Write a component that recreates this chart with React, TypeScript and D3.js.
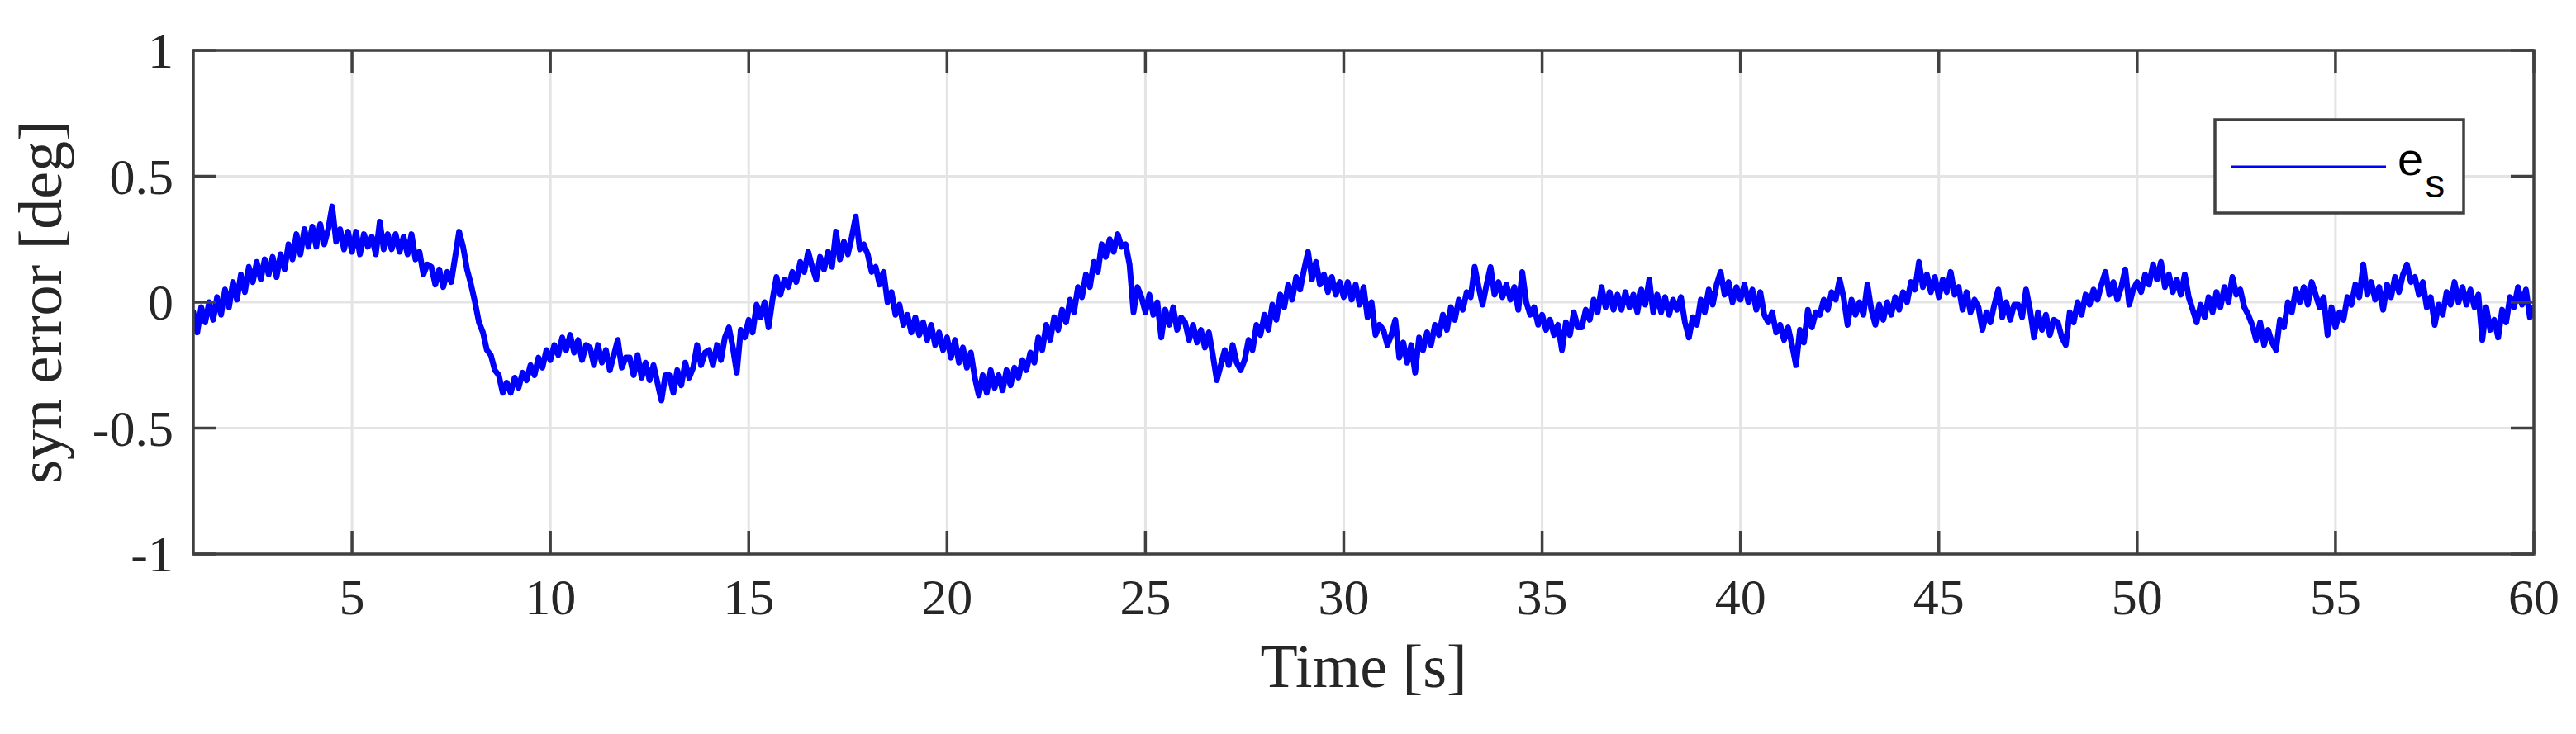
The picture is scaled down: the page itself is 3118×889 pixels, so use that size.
import React from 'react';
import * as d3 from 'd3';

// ---- data ----
const TIME_START = 1;
const TIME_STEP = 0.1;
// synchronisation error e_s [deg], sampled every 0.1 s from t = 1 s to 60 s
const synError: number[] = [
  -0.04, -0.12, -0.02, -0.08, 0.0, -0.07, 0.02, -0.05, 0.05, -0.02,
  0.08, 0.01, 0.11, 0.04, 0.14, 0.08, 0.16, 0.09, 0.17, 0.11,
  0.18, 0.10, 0.19, 0.13, 0.23, 0.17, 0.27, 0.19, 0.29, 0.22,
  0.30, 0.22, 0.31, 0.23, 0.29, 0.38, 0.24, 0.29, 0.21, 0.28,
  0.20, 0.28, 0.19, 0.27, 0.22, 0.26, 0.19, 0.32, 0.21, 0.27,
  0.21, 0.27, 0.20, 0.26, 0.19, 0.27, 0.17, 0.20, 0.11, 0.15,
  0.14, 0.07, 0.13, 0.06, 0.12, 0.08, 0.18, 0.28, 0.22, 0.13,
  0.07, 0.0, -0.08, -0.12, -0.19, -0.21, -0.27, -0.29, -0.36, -0.32,
  -0.36, -0.30, -0.34, -0.28, -0.31, -0.25, -0.29, -0.22, -0.26, -0.19,
  -0.23, -0.17, -0.21, -0.14, -0.19, -0.13, -0.20, -0.15, -0.23, -0.17,
  -0.18, -0.25, -0.17, -0.24, -0.19, -0.27, -0.21, -0.15, -0.26, -0.22,
  -0.22, -0.29, -0.21, -0.30, -0.24, -0.31, -0.25, -0.32, -0.39, -0.29,
  -0.29, -0.36, -0.27, -0.33, -0.24, -0.30, -0.26, -0.17, -0.25, -0.20,
  -0.19, -0.25, -0.17, -0.23, -0.14, -0.10, -0.18, -0.28, -0.11, -0.14,
  -0.07, -0.12, -0.01, -0.06, 0.0, -0.10, 0.01, 0.10, 0.03, 0.09,
  0.06, 0.12, 0.08, 0.16, 0.12, 0.20, 0.14, 0.09, 0.18, 0.13,
  0.20, 0.14, 0.28, 0.17, 0.24, 0.19, 0.26, 0.34, 0.21, 0.23,
  0.19, 0.12, 0.14, 0.07, 0.12, 0.0, 0.04, -0.05, -0.01, -0.09,
  -0.05, -0.12, -0.06, -0.13, -0.08, -0.15, -0.09, -0.17, -0.12, -0.19,
  -0.14, -0.22, -0.15, -0.24, -0.18, -0.26, -0.20, -0.30, -0.37, -0.29,
  -0.36, -0.27, -0.34, -0.29, -0.35, -0.27, -0.33, -0.26, -0.30, -0.23,
  -0.27, -0.20, -0.24, -0.14, -0.19, -0.09, -0.15, -0.06, -0.11, -0.03,
  -0.08, 0.01, -0.04, 0.06, 0.02, 0.11, 0.06, 0.16, 0.12, 0.23,
  0.18, 0.25, 0.20, 0.27, 0.22, 0.23, 0.15, -0.04, 0.06, 0.02,
  -0.04, 0.03, -0.05, 0.0, -0.14, -0.03, -0.09, -0.02, -0.11, -0.06,
  -0.08, -0.15, -0.09, -0.16, -0.11, -0.18, -0.12, -0.21, -0.31, -0.25,
  -0.19, -0.25, -0.17, -0.24, -0.27, -0.23, -0.15, -0.19, -0.09, -0.13,
  -0.05, -0.11, -0.01, -0.07, 0.03, -0.02, 0.07, 0.01, 0.10, 0.05,
  0.13, 0.20, 0.09, 0.16, 0.07, 0.11, 0.04, 0.10, 0.03, 0.08,
  0.02, 0.08, 0.01, 0.07, -0.01, 0.06, -0.06, 0.0, -0.13, -0.09,
  -0.11, -0.17, -0.13, -0.07, -0.22, -0.16, -0.24, -0.17, -0.28, -0.14,
  -0.19, -0.12, -0.17, -0.09, -0.13, -0.05, -0.11, -0.02, -0.07, 0.01,
  -0.03, 0.04, 0.02, 0.14, 0.06, -0.01, 0.07, 0.14, 0.03, 0.08,
  0.02, 0.07, 0.01, 0.06, -0.03, 0.12, 0.0, -0.05, -0.02, -0.09,
  -0.05, -0.11, -0.07, -0.13, -0.09, -0.19, -0.08, -0.13, -0.04, -0.10,
  -0.10, -0.03, -0.07, 0.01, -0.04, 0.06, -0.02, 0.04, -0.03, 0.03,
  -0.03, 0.04, -0.02, 0.03, -0.04, 0.05, -0.01, 0.09, -0.04, 0.03,
  -0.04, 0.02, -0.05, 0.01, -0.03, 0.02, -0.08, -0.14, -0.06, -0.09,
  0.01, -0.04, 0.05, -0.01, 0.07, 0.12, 0.03, 0.08, 0.0, 0.06,
  0.01, 0.07, 0.0, 0.05, -0.03, 0.04, -0.05, -0.08, -0.04, -0.12,
  -0.09, -0.15, -0.10, -0.17, -0.25, -0.11, -0.16, -0.03, -0.10, -0.04,
  -0.05, 0.01, -0.03, 0.04, 0.01, 0.09, 0.02, -0.09, 0.01, -0.05,
  0.0, -0.05, 0.07, -0.03, -0.09, -0.01, -0.07, 0.0, -0.05, 0.02,
  -0.03, 0.04, 0.0, 0.08, 0.05, 0.16, 0.06, 0.11, 0.04, 0.10,
  0.02, 0.09, 0.04, 0.12, 0.03, 0.06, -0.03, 0.04, -0.04, 0.01,
  -0.02, -0.11, -0.04, -0.08, -0.01, 0.05, -0.06, 0.0, -0.07, -0.01,
  -0.01, -0.06, 0.05, -0.03, -0.14, -0.04, -0.11, -0.05, -0.13, -0.07,
  -0.08, -0.14, -0.17, -0.04, -0.08, 0.0, -0.05, 0.03, -0.01, 0.05,
  0.01, 0.07, 0.12, 0.03, 0.08, 0.01, 0.06, 0.13, -0.01, 0.05,
  0.08, 0.04, 0.11, 0.07, 0.15, 0.09, 0.16, 0.06, 0.11, 0.04,
  0.09, 0.03, 0.11, 0.02, -0.03, -0.08, -0.01, -0.06, 0.02, -0.04,
  0.04, -0.02, 0.06, 0.0, 0.10, 0.03, 0.05, -0.02, -0.05, -0.09,
  -0.15, -0.08, -0.17, -0.11, -0.16, -0.19, -0.07, -0.10, 0.0, -0.04,
  0.05, 0.0, 0.06, -0.01, 0.08, 0.03, -0.02, 0.02, -0.13, -0.02,
  -0.10, -0.04, -0.07, 0.02, -0.01, 0.07, 0.02, 0.15, 0.03, 0.08,
  0.01, 0.06, -0.03, 0.07, 0.02, 0.10, 0.04, 0.11, 0.15, 0.08,
  0.10, 0.03, 0.08, -0.02, 0.02, -0.09, -0.01, -0.05, 0.04, -0.01,
  0.08, 0.0, 0.06, -0.01, 0.05, -0.02, 0.03, -0.15, -0.02, -0.11,
  -0.07, -0.14, -0.03, -0.08, 0.02, -0.02, 0.06, -0.01, 0.05, -0.06,
  -0.02,
];

const xDomain = [1, 60];
const yDomain = [-1, 1];
const xTicks = [5, 10, 15, 20, 25, 30, 35, 40, 45, 50, 55, 60];
const yTicks = [-1, -0.5, 0, 0.5, 1];
const yTickLabels = ['-1', '-0.5', '0', '0.5', '1'];
const xLabel = 'Time [s]';
const yLabel = 'syn error [deg]';
const legendMain = 'e';
const legendSub = 's';

export default function App() {
  const W = 3118;
  const H = 889;
  const plot = { left: 234, right: 3067, top: 61, bottom: 671 };
  const x = d3.scaleLinear().domain(xDomain).range([plot.left, plot.right]);
  const y = d3.scaleLinear().domain(yDomain).range([plot.bottom, plot.top]);
  const line = d3
    .line<number>()
    .x((_, i) => x(TIME_START + i * TIME_STEP))
    .y((d) => y(d));

  const axisColor = '#404040';
  const gridColor = '#e4e4e4';
  const textColor = '#262626';
  const tickLen = 28;
  const serif = '"Liberation Serif", "Times New Roman", serif';

  const legend = { x: 2681, y: 145, w: 301, h: 113 };

  return (
    <svg
      width={W}
      height={H}
      viewBox={`0 0 ${W} ${H}`}
      style={{ position: 'absolute', left: 0, top: 0, background: '#fff' }}
    >
      <defs>
        <clipPath id="plotClip">
          <rect x={plot.left} y={plot.top} width={plot.right - plot.left} height={plot.bottom - plot.top} />
        </clipPath>
      </defs>
      <rect x={0} y={0} width={W} height={H} fill="#fff" />

      {/* grid */}
      <g stroke={gridColor} strokeWidth={3}>
        {xTicks.map((t) => (
          <line key={'gx' + t} x1={x(t)} x2={x(t)} y1={plot.top} y2={plot.bottom} />
        ))}
        {yTicks.map((t) => (
          <line key={'gy' + t} x1={plot.left} x2={plot.right} y1={y(t)} y2={y(t)} />
        ))}
      </g>

      {/* data */}
      <path
        d={line(synError) || ''}
        fill="none"
        stroke="#0000ff"
        strokeWidth={7}
        strokeLinejoin="round"
        strokeLinecap="round"
        clipPath="url(#plotClip)"
      />

      {/* frame and ticks */}
      <g stroke={axisColor} strokeWidth={3.5} fill="none">
        <rect x={plot.left} y={plot.top} width={plot.right - plot.left} height={plot.bottom - plot.top} />
        {xTicks.map((t) => (
          <g key={'tx' + t}>
            <line x1={x(t)} x2={x(t)} y1={plot.bottom} y2={plot.bottom - tickLen} />
            <line x1={x(t)} x2={x(t)} y1={plot.top} y2={plot.top + tickLen} />
          </g>
        ))}
        {yTicks.map((t) => (
          <g key={'ty' + t}>
            <line x1={plot.left} x2={plot.left + tickLen} y1={y(t)} y2={y(t)} />
            <line x1={plot.right} x2={plot.right - tickLen} y1={y(t)} y2={y(t)} />
          </g>
        ))}
      </g>

      {/* tick labels */}
      <g fontFamily={serif} fontSize={62} fill={textColor}>
        {xTicks.map((t) => (
          <text key={'lx' + t} x={x(t)} y={744} textAnchor="middle">
            {String(t)}
          </text>
        ))}
        {yTicks.map((t, i) => (
          <text key={'ly' + t} x={210} y={y(t)} dy="0.34em" textAnchor="end">
            {yTickLabels[i]}
          </text>
        ))}
      </g>

      {/* axis labels */}
      <text x={(plot.left + plot.right) / 2} y={832} textAnchor="middle" fontFamily={serif} fontSize={74} fill={textColor}>
        {xLabel}
      </text>
      <text
        transform={`translate(74, ${(plot.top + plot.bottom) / 2}) rotate(-90)`}
        textAnchor="middle"
        fontFamily={serif}
        fontSize={74}
        fill={textColor}
      >
        {yLabel}
      </text>

      {/* legend */}
      <rect x={legend.x} y={legend.y} width={legend.w} height={legend.h} fill="#fff" stroke={axisColor} strokeWidth={3.5} />
      <line x1={legend.x + 19} x2={legend.x + 207} y1={202} y2={202} stroke="#0000ff" strokeWidth={3.2} />
      <text x={legend.x + 221} y={212} fontFamily='"Liberation Sans", Arial, sans-serif' fontSize={56} fill="#000">
        {legendMain}
        <tspan dx={2} dy={27} fontSize={48}>
          {legendSub}
        </tspan>
      </text>
    </svg>
  );
}
